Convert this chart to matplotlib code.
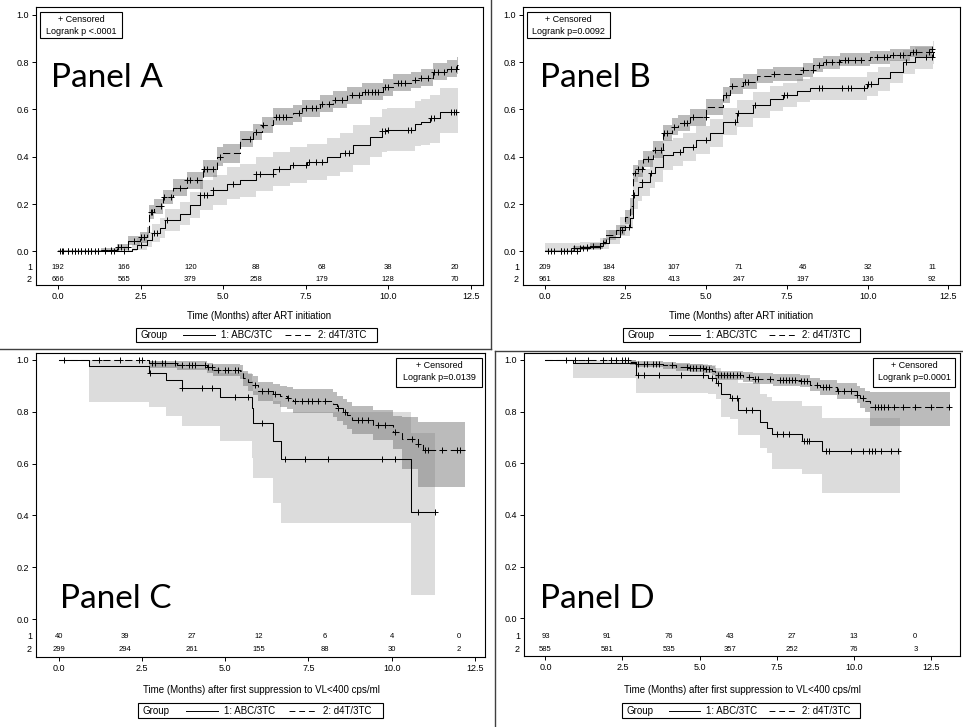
import numpy as np
import matplotlib
matplotlib.use('Agg')
import matplotlib.pyplot as plt
from matplotlib.lines import Line2D
from matplotlib.patches import Rectangle

plt.rcParams['font.family'] = ['Liberation Sans', 'DejaVu Sans']

# ---- data ----
risk_t = [0, 2, 4, 6, 8, 10, 12]

# Panel A: time to outcome after ART initiation (rising curves)
a1_t = [0, 2.22, 2.37, 2.68, 2.83, 3.08, 3.23, 3.69, 3.99, 4.29, 4.7, 5.1, 5.5, 6.0, 6.52, 7.02, 7.53, 8.13, 8.54, 8.94, 9.44, 9.8, 9.95, 10.8, 11.0, 11.26, 11.57]
a1_s = [0, 0.01, 0.027, 0.048, 0.076, 0.097, 0.132, 0.16, 0.196, 0.238, 0.26, 0.287, 0.30, 0.327, 0.348, 0.365, 0.379, 0.40, 0.417, 0.45, 0.485, 0.51, 0.515, 0.54, 0.548, 0.562, 0.59]
a1_lo = [0, 0, 0.005, 0.02, 0.04, 0.055, 0.085, 0.11, 0.14, 0.175, 0.195, 0.22, 0.23, 0.255, 0.275, 0.29, 0.3, 0.32, 0.335, 0.365, 0.4, 0.42, 0.425, 0.445, 0.45, 0.46, 0.5]
a1_hi = [0.005, 0.03, 0.055, 0.08, 0.115, 0.14, 0.18, 0.21, 0.25, 0.3, 0.325, 0.355, 0.37, 0.4, 0.42, 0.44, 0.455, 0.48, 0.5, 0.535, 0.57, 0.6, 0.605, 0.635, 0.645, 0.66, 0.69]
a1_cens = [0.1, 0.3, 0.5, 0.7, 0.9, 1.0, 1.2, 1.4, 1.6, 1.7, 2.0, 2.5, 2.9, 3.0, 3.3, 4.3, 4.4, 4.5, 4.7, 5.3, 6.0, 6.1, 6.5, 6.7, 7.1, 7.5, 7.6, 7.8, 8.0, 8.7, 8.8, 9.8, 9.9, 10.0, 10.6, 10.7, 11.3, 11.4, 11.9, 12.0, 12.05]
a1_end = 12.1
a2_t = [0, 1.3, 1.77, 2.12, 2.47, 2.68, 2.75, 2.9, 3.18, 3.48, 3.89, 4.39, 4.8, 5.0, 5.5, 5.9, 6.16, 6.52, 7.1, 7.37, 7.93, 8.33, 8.74, 9.19, 9.85, 10.15, 10.7, 11.0, 11.36, 11.77, 12.07]
a2_s = [0, 0.008, 0.02, 0.045, 0.06, 0.08, 0.165, 0.19, 0.23, 0.27, 0.30, 0.35, 0.40, 0.415, 0.475, 0.505, 0.534, 0.57, 0.583, 0.604, 0.625, 0.642, 0.66, 0.675, 0.693, 0.713, 0.724, 0.735, 0.76, 0.773, 0.787]
a2_lo = [0, 0, 0.008, 0.025, 0.037, 0.055, 0.135, 0.16, 0.2, 0.235, 0.265, 0.315, 0.36, 0.375, 0.44, 0.47, 0.5, 0.535, 0.548, 0.57, 0.59, 0.607, 0.625, 0.64, 0.658, 0.678, 0.69, 0.7, 0.725, 0.738, 0.75]
a2_hi = [0.005, 0.016, 0.032, 0.065, 0.083, 0.105, 0.195, 0.22, 0.26, 0.305, 0.335, 0.385, 0.44, 0.455, 0.51, 0.54, 0.568, 0.605, 0.618, 0.638, 0.66, 0.677, 0.695, 0.71, 0.728, 0.748, 0.758, 0.77, 0.795, 0.808, 0.822]
a2_cens = [0.05, 0.15, 0.3, 0.4, 0.5, 0.6, 0.7, 0.8, 0.9, 1.0, 1.1, 1.2, 1.4, 1.6, 1.8, 1.9, 2.1, 2.3, 2.5, 2.6, 2.8, 2.85, 3.1, 3.2, 3.4, 3.7, 3.9, 4.0, 4.2, 4.4, 4.5, 4.7, 4.9, 5.8, 6.0, 6.2, 6.6, 6.7, 6.8, 6.9, 7.3, 7.5, 7.7, 7.8, 8.0, 8.2, 8.4, 8.6, 8.9, 9.1, 9.3, 9.4, 9.5, 9.6, 9.7, 9.9, 10.0, 10.3, 10.4, 10.5, 10.8, 11.0, 11.2, 11.4, 11.5, 11.7, 11.9, 12.05]
a2_end = 12.1
a_risk1 = [192, 166, 120, 88, 68, 38, 20]
a_risk2 = [666, 565, 379, 258, 179, 128, 70]

# Panel B
b1_t = [0, 1.08, 1.7, 2.0, 2.32, 2.63, 2.74, 2.89, 3.0, 3.25, 3.41, 3.67, 3.98, 4.29, 4.7, 5.11, 5.53, 5.94, 6.46, 6.97, 7.39, 7.8, 8.21, 9.97, 10.33, 10.69, 11.1, 11.47, 12.03]
b1_s = [0, 0.02, 0.034, 0.06, 0.104, 0.14, 0.238, 0.273, 0.294, 0.33, 0.358, 0.407, 0.42, 0.44, 0.47, 0.50, 0.548, 0.583, 0.618, 0.646, 0.66, 0.68, 0.689, 0.707, 0.731, 0.76, 0.80, 0.82, 0.844]
b1_lo = [0, 0.005, 0.012, 0.03, 0.065, 0.095, 0.18, 0.215, 0.235, 0.27, 0.295, 0.345, 0.36, 0.38, 0.41, 0.44, 0.49, 0.525, 0.565, 0.595, 0.61, 0.63, 0.64, 0.655, 0.68, 0.71, 0.75, 0.77, 0.79]
b1_hi = [0.035, 0.04, 0.055, 0.09, 0.145, 0.185, 0.295, 0.33, 0.35, 0.39, 0.42, 0.47, 0.48, 0.5, 0.53, 0.56, 0.605, 0.64, 0.672, 0.697, 0.71, 0.73, 0.738, 0.757, 0.78, 0.81, 0.85, 0.865, 0.89]
b1_cens = [0.2, 0.5, 0.7, 1.0, 1.3, 1.8, 2.6, 2.75, 3.0, 3.3, 4.2, 4.6, 5.0, 5.9, 6.0, 6.5, 7.4, 7.5, 8.5, 8.6, 9.2, 9.4, 9.5, 9.9, 10.0, 10.1, 11.2, 11.8, 12.0]
b1_end = 12.05
b2_t = [0, 0.88, 1.39, 1.81, 1.91, 2.22, 2.48, 2.63, 2.74, 2.89, 3.05, 3.36, 3.67, 3.93, 4.13, 4.49, 5.01, 5.53, 5.73, 6.15, 6.56, 7.08, 8.0, 8.32, 8.63, 9.14, 10.07, 10.69, 11.31, 11.98]
b2_s = [0, 0.013, 0.024, 0.04, 0.07, 0.09, 0.146, 0.19, 0.33, 0.35, 0.39, 0.43, 0.50, 0.527, 0.544, 0.566, 0.611, 0.66, 0.70, 0.717, 0.741, 0.75, 0.766, 0.787, 0.80, 0.81, 0.82, 0.83, 0.844, 0.854]
b2_lo = [0, 0.005, 0.012, 0.025, 0.05, 0.068, 0.115, 0.155, 0.295, 0.315, 0.355, 0.395, 0.465, 0.492, 0.51, 0.532, 0.577, 0.626, 0.667, 0.685, 0.71, 0.72, 0.737, 0.758, 0.772, 0.783, 0.794, 0.805, 0.82, 0.83]
b2_hi = [0.006, 0.022, 0.036, 0.055, 0.09, 0.112, 0.177, 0.225, 0.365, 0.385, 0.425, 0.465, 0.535, 0.562, 0.578, 0.6, 0.645, 0.694, 0.733, 0.749, 0.772, 0.78, 0.795, 0.816, 0.828, 0.837, 0.846, 0.855, 0.868, 0.878]
b2_cens = [0.1, 0.3, 0.5, 0.6, 0.8, 0.9, 1.1, 1.2, 1.3, 1.5, 1.7, 2.4, 2.8, 2.9, 3.0, 3.2, 3.4, 3.6, 3.7, 3.8, 4.0, 4.3, 4.4, 4.6, 5.0, 5.6, 5.8, 6.2, 6.3, 7.1, 8.0, 8.3, 8.5, 8.7, 8.9, 9.1, 9.3, 9.4, 9.6, 9.8, 10.3, 10.5, 10.6, 10.8, 11.0, 11.1, 11.4, 11.5, 11.9, 12.0]
b2_end = 12.0
b_risk1 = [209, 184, 107, 71, 46, 32, 11]
b_risk2 = [961, 828, 413, 247, 197, 136, 92]

# Panel C: after first suppression (falling curves)
c1_t = [0, 0.9, 2.7, 3.22, 3.7, 4.85, 5.8, 5.85, 6.45, 6.67, 10.57]
c1_s = [1.0, 0.978, 0.948, 0.924, 0.892, 0.857, 0.814, 0.756, 0.689, 0.619, 0.415]
c1_lo = [1.0, 0.838, 0.818, 0.782, 0.746, 0.688, 0.621, 0.544, 0.447, 0.37, 0.095]
c1_hi = [1.0, 1.0, 0.995, 0.985, 0.97, 0.95, 0.92, 0.88, 0.84, 0.80, 0.72]
c1_cens = [2.75, 3.7, 4.3, 4.6, 5.3, 5.7, 6.1, 6.8, 7.4, 8.1, 9.7, 10.1, 10.8, 11.3]
c1_end = 11.3
c2_t = [0, 2.7, 3.55, 4.45, 4.65, 5.45, 5.55, 5.7, 5.85, 6.0, 6.45, 6.65, 6.85, 7.05, 8.25, 8.35, 8.55, 8.65, 8.8, 9.45, 10.05, 10.3, 10.8, 10.95]
c2_s = [1.0, 0.988, 0.982, 0.972, 0.963, 0.956, 0.93, 0.915, 0.902, 0.879, 0.87, 0.86, 0.853, 0.843, 0.83, 0.814, 0.80, 0.786, 0.769, 0.75, 0.722, 0.696, 0.675, 0.653]
c2_lo = [1.0, 0.97, 0.96, 0.948, 0.937, 0.928, 0.898, 0.88, 0.865, 0.84, 0.83, 0.818, 0.81, 0.795, 0.78, 0.763, 0.748, 0.732, 0.713, 0.69, 0.655, 0.58, 0.51, 0.51]
c2_hi = [1.0, 0.998, 0.995, 0.99, 0.985, 0.98, 0.958, 0.947, 0.937, 0.915, 0.908, 0.9, 0.895, 0.888, 0.876, 0.862, 0.85, 0.838, 0.823, 0.808, 0.785, 0.78, 0.76, 0.76]
c2_cens = [0.15, 1.2, 1.85, 2.4, 2.5, 2.8, 2.9, 3.1, 3.2, 3.5, 3.7, 3.9, 4.0, 4.1, 4.4, 4.5, 4.6, 4.8, 5.0, 5.1, 5.3, 5.4, 5.9, 6.1, 6.3, 6.5, 6.9, 7.1, 7.3, 7.5, 7.6, 7.8, 8.0, 8.4, 8.6, 9.0, 9.1, 9.3, 9.6, 9.8, 10.1, 10.6, 10.8, 11.0, 11.1, 11.5, 11.95, 12.05]
c2_end = 12.2
c_risk1 = [40, 39, 27, 12, 6, 4, 0]
c_risk2 = [299, 294, 261, 155, 88, 30, 2]

# Panel D
d1_t = [0, 0.9, 2.95, 5.28, 5.55, 5.71, 5.98, 6.26, 6.96, 7.18, 7.34, 8.31, 8.96]
d1_s = [1.0, 0.988, 0.943, 0.93, 0.911, 0.869, 0.853, 0.808, 0.76, 0.737, 0.714, 0.686, 0.647]
d1_lo = [1.0, 0.93, 0.872, 0.868, 0.85, 0.78, 0.77, 0.71, 0.66, 0.64, 0.576, 0.56, 0.486]
d1_hi = [1.0, 1.0, 0.985, 0.98, 0.97, 0.95, 0.94, 0.91, 0.87, 0.855, 0.84, 0.82, 0.775]
d1_cens = [3.0, 3.2, 3.7, 4.4, 5.1, 5.4, 5.6, 6.05, 6.2, 6.5, 6.7, 7.5, 7.7, 7.9, 8.4, 8.5, 8.55, 9.1, 9.2, 9.9, 10.3, 10.5, 10.6, 10.7, 10.9, 11.2, 11.45]
d1_end = 11.5
d2_t = [0, 2.74, 2.95, 3.82, 4.25, 4.69, 5.12, 5.39, 5.5, 5.55, 6.42, 6.74, 7.39, 8.26, 8.58, 8.9, 9.45, 10.1, 10.2, 10.37, 10.53]
d2_s = [1.0, 0.992, 0.985, 0.979, 0.973, 0.969, 0.966, 0.959, 0.95, 0.94, 0.934, 0.928, 0.924, 0.918, 0.905, 0.894, 0.881, 0.866, 0.853, 0.84, 0.818]
d2_lo = [1.0, 0.98, 0.972, 0.966, 0.959, 0.954, 0.95, 0.942, 0.932, 0.921, 0.914, 0.906, 0.901, 0.894, 0.878, 0.866, 0.85, 0.832, 0.816, 0.8, 0.744]
d2_hi = [1.0, 1.0, 0.996, 0.992, 0.987, 0.984, 0.982, 0.976, 0.968, 0.959, 0.954, 0.95, 0.947, 0.942, 0.932, 0.922, 0.912, 0.9, 0.89, 0.88, 0.876]
d2_cens = [0.68, 0.95, 1.39, 1.87, 2.14, 2.3, 2.47, 2.58, 2.68, 3.0, 3.2, 3.3, 3.5, 3.6, 3.7, 4.1, 4.6, 4.7, 4.8, 4.9, 5.0, 5.1, 5.2, 5.3, 5.6, 5.7, 5.8, 5.9, 6.0, 6.1, 6.2, 6.3, 6.6, 6.8, 6.9, 7.3, 7.6, 7.7, 7.8, 7.9, 8.0, 8.1, 8.3, 8.4, 8.5, 8.8, 9.0, 9.1, 9.2, 9.5, 9.7, 9.9, 10.1, 10.3, 10.7, 10.8, 10.9, 11.0, 11.1, 11.3, 11.6, 12.0, 12.5, 13.1]
d2_end = 13.13
d_risk1 = [93, 91, 76, 43, 27, 13, 0]
d_risk2 = [585, 581, 535, 357, 252, 76, 3]

W, H = 963, 727


def fx(x):
    return x / W


def fy(y):
    return 1 - y / H


def draw_band(ax, t, lo, hi, t_end, alpha):
    tt = np.append(t, t_end)
    ax.fill_between(tt, np.append(lo, lo[-1]), np.append(hi, hi[-1]), step='post',
                    color='#707070', alpha=alpha, lw=0)


def draw_curve(ax, t, s, t_end, cens, dashed):
    t = np.asarray(t)
    s = np.asarray(s)
    ls = (0, (7, 3.5)) if dashed else '-'
    ax.plot(np.append(t, t_end), np.append(s, s[-1]), drawstyle='steps-post',
            color='black', lw=0.75, ls=ls)
    idx = np.searchsorted(t, cens, side='right') - 1
    ax.plot(cens, s[idx], ls='none', marker='+', color='black', ms=5, mew=0.7)


def panel(box, xlim, ylim, g1, g2, risk1, risk2, risk_y):
    l, t, r, b = box
    ax = fig.add_axes([fx(l), fy(b), (r - l) / W, (b - t) / H])
    draw_band(ax, g1[0], g1[2], g1[3], g1[5], 0.24)
    draw_band(ax, g2[0], g2[2], g2[3], g2[5], 0.47)
    draw_curve(ax, g1[0], g1[1], g1[5], g1[4], False)
    draw_curve(ax, g2[0], g2[1], g2[5], g2[4], True)
    ax.set_xlim(*xlim)
    ax.set_ylim(*ylim)
    ax.set_xticks([0, 2.5, 5, 7.5, 10, 12.5])
    ax.set_xticklabels(['0.0', '2.5', '5.0', '7.5', '10.0', '12.5'])
    ax.set_yticks([0, 0.2, 0.4, 0.6, 0.8, 1.0])
    ax.set_yticklabels(['0.0', '0.2', '0.4', '0.6', '0.8', '1.0'])
    ax.tick_params(direction='out', length=3, width=0.7, labelsize=6.5, pad=2)
    for sp in ax.spines.values():
        sp.set_linewidth(0.8)
    for i, tr in enumerate(risk_t):
        ax.text(tr, risk_y[0], str(risk1[i]), ha='center', va='center', fontsize=5.5)
        ax.text(tr, risk_y[1], str(risk2[i]), ha='center', va='center', fontsize=5.5)
    for lab, yy in zip(['1', '2'], risk_y):
        ax.annotate(lab, xy=(0, yy), xycoords=('axes fraction', 'data'), xytext=(-3, 0),
                    textcoords='offset points', ha='right', va='center', fontsize=6.5)
    return ax


def censor_box(l, t, r, b, ptext):
    fig.add_artist(Rectangle((fx(l), fy(b)), (r - l) / W, (b - t) / H, transform=fig.transFigure,
                             fill=True, facecolor='white', edgecolor='black', lw=0.8))
    cx = (l + r) / 2
    fig.text(fx(cx), fy(t + 7), '+ Censored', ha='center', va='center', fontsize=6.5)
    fig.text(fx(cx), fy(t + 20), ptext, ha='center', va='center', fontsize=6.5)


def legend_box(l, t, r, b):
    w = r - l
    ym = (t + b) / 2
    fig.add_artist(Rectangle((fx(l), fy(b)), w / W, (b - t) / H, transform=fig.transFigure,
                             fill=False, edgecolor='black', lw=0.8))
    fig.text(fx(l + 0.017 * w), fy(ym), 'Group', ha='left', va='center', fontsize=7)
    fig.add_artist(Line2D([fx(l + 0.196 * w), fx(l + 0.327 * w)], [fy(ym), fy(ym)], color='black', lw=0.7))
    fig.text(fx(l + 0.352 * w), fy(ym), '1: ABC/3TC', ha='left', va='center', fontsize=7)
    fig.add_artist(Line2D([fx(l + 0.617 * w), fx(l + 0.728 * w)], [fy(ym), fy(ym)], color='black', lw=0.7,
                          ls=(0, (6, 4))))
    fig.text(fx(l + 0.755 * w), fy(ym), '2: d4T/3TC', ha='left', va='center', fontsize=7)


fig = plt.figure(figsize=(W / 100, H / 100), dpi=100)

ylim_top = (-0.142, 1.033)
ylim_bot = (-0.146, 1.027)

panel((36, 7, 483, 285), (-0.676, 12.87), ylim_top,
      (a1_t, a1_s, a1_lo, a1_hi, a1_cens, a1_end), (a2_t, a2_s, a2_lo, a2_hi, a2_cens, a2_end),
      a_risk1, a_risk2, (-0.07, -0.118))
panel((523, 7, 960, 285), (-0.672, 12.86), ylim_top,
      (b1_t, b1_s, b1_lo, b1_hi, b1_cens, b1_end), (b2_t, b2_s, b2_lo, b2_hi, b2_cens, b2_end),
      b_risk1, b_risk2, (-0.07, -0.118))
panel((36, 353, 485, 657), (-0.678, 12.8), ylim_bot,
      (c1_t, c1_s, c1_lo, c1_hi, c1_cens, c1_end), (c2_t, c2_s, c2_lo, c2_hi, c2_cens, c2_end),
      c_risk1, c_risk2, (-0.066, -0.116))
panel((524, 353, 960, 656), (-0.695, 13.45), ylim_bot,
      (d1_t, d1_s, d1_lo, d1_hi, d1_cens, d1_end), (d2_t, d2_s, d2_lo, d2_hi, d2_cens, d2_end),
      d_risk1, d_risk2, (-0.07, -0.12))

censor_box(40, 12, 122, 38, 'Logrank p <.0001')
censor_box(527, 12, 610, 38, 'Logrank p=0.0092')
censor_box(396, 358, 482, 387, 'Logrank p=0.0139')
censor_box(873, 358, 955, 387, 'Logrank p=0.0001')

big = dict(fontsize=24, family=['Lato', 'DejaVu Sans'], va='baseline', ha='left')
fig.text(fx(51), fy(87), 'Panel A', **big)
fig.text(fx(540), fy(87), 'Panel B', **big)
fig.text(fx(60), fy(608), 'Panel C', **big)
fig.text(fx(540), fy(608), 'Panel D', **big)

fig.text(fx(259), fy(316), 'Time (Months) after ART initiation', ha='center', va='center', fontsize=7)
fig.text(fx(741), fy(316), 'Time (Months) after ART initiation', ha='center', va='center', fontsize=7)
fig.text(fx(261), fy(690), 'Time (Months) after first suppression to VL<400 cps/ml', ha='center', va='center', fontsize=7)
fig.text(fx(742), fy(690), 'Time (Months) after first suppression to VL<400 cps/ml', ha='center', va='center', fontsize=7)

legend_box(136, 328, 377, 342)
legend_box(623, 328, 860, 342)
legend_box(138, 703, 383, 718)
legend_box(622, 703, 860, 718)

# borders of the pasted panels
for xs, ys in [((0, 491), (349, 349)), ((491, 491), (0, 349)), ((495, 495), (351, 727)), ((495, 963), (351, 351))]:
    fig.add_artist(Line2D([fx(xs[0]), fx(xs[1])], [fy(ys[0]), fy(ys[1])], color='#404040', lw=1.0))

fig.savefig('out.png', dpi=100)
